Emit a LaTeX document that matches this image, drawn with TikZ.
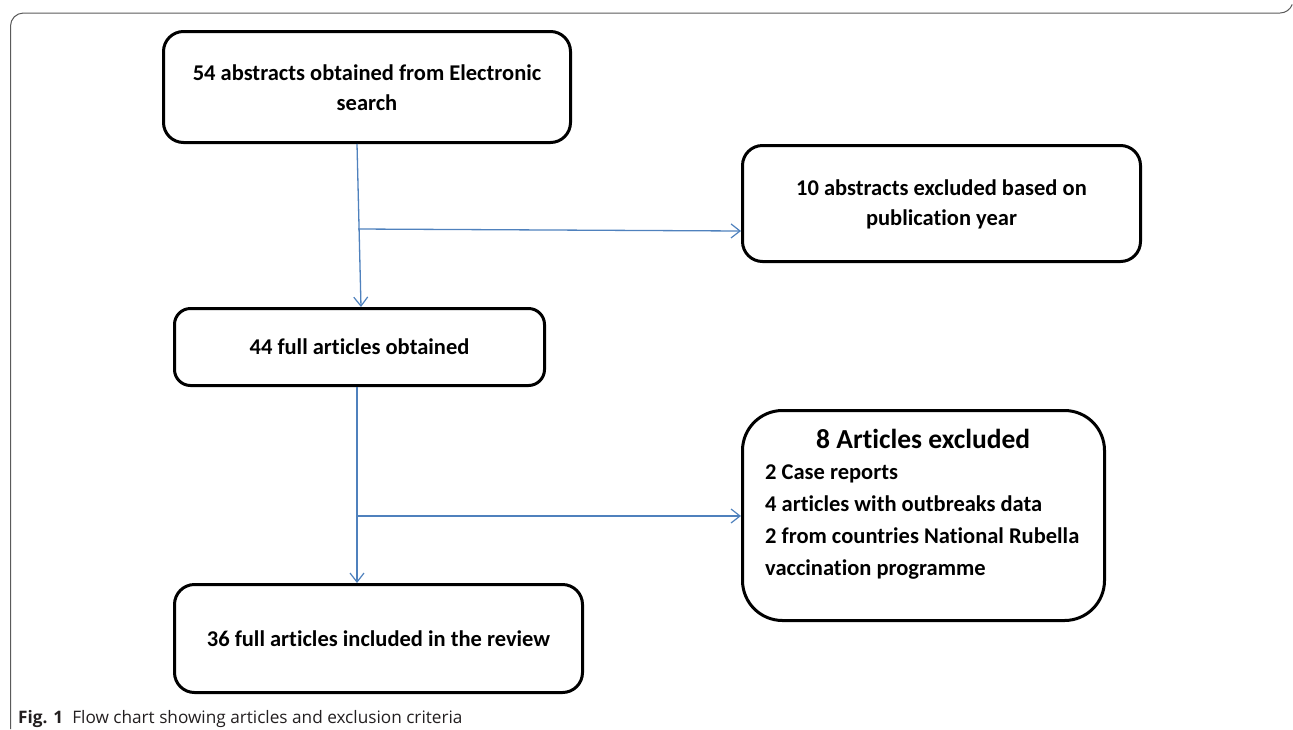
\documentclass[tikz,border=0pt]{standalone}
\usepackage{fontspec}
\setmainfont{Carlito}[Ligatures=NoCommon]
\newfontfamily\capfont{Open Sans}
\usetikzlibrary{arrows.meta}
\definecolor{arrblue}{RGB}{79,129,189}
\definecolor{framegray}{RGB}{90,90,90}
\definecolor{capgray}{RGB}{35,31,32}
\tikzset{
  box/.style={draw=black, line width=3pt, rounded corners=20pt, inner sep=0pt,
    font=\fontsize{22.5}{30}\selectfont\bfseries, align=center},
  arr/.style={draw=arrblue, line width=1.3pt, -{Straight Barb[length=9pt,width=14pt,line width=1.2pt]}},
}
\begin{document}
\begin{tikzpicture}[x=1pt,y=-1pt]
\useasboundingbox (0,0) rectangle (1293,729);
% outer frame
\draw[framegray, line width=1pt] (10.5,729) -- (10.5,26) arc[start angle=180,end angle=270,radius=13] -- (1280,13) arc[start angle=90,end angle=20,radius=13];
% boxes
\node[box, minimum width=407pt, minimum height=111pt] (b1) at (367,87) {\rule{0pt}{18pt}54 abstracts obtained from Electronic\\search};
\node[box, minimum width=398pt, minimum height=116pt] (b2) at (941.5,203.5) {\rule{0pt}{18pt}10 abstracts excluded based on\\publication year};
\node[box, minimum width=370pt, minimum height=77pt, rounded corners=16pt] (b3) at (359.5,347) {\raisebox{-2pt}{44 full articles obtained}};
\node[box, minimum width=362pt, minimum height=210pt, rounded corners=40pt] (b4) at (923.5,515.5) {};
\node[font=\fontsize{22.5}{32}\selectfont\bfseries, align=left, anchor=north west, inner sep=0pt] (b4t) at ([xshift=24pt,yshift=-20pt]b4.north west)
  {\makebox[316pt]{\fontsize{27.5}{30}\selectfont 8 Articles excluded}\\[-1pt]
   2 Case reports\\
   4 articles with outbreaks data\\
   2 from countries National Rubella\\
   vaccination programme};
\node[box, minimum width=408pt, minimum height=108pt] (b5) at (378.5,638.5) {\raisebox{-2pt}{36 full articles included in the review}};
% connectors
\coordinate (j1) at (358,229);
\coordinate (j2) at (357,516);
\draw[arr] ([xshift=-10pt]b1.south) -- (b3.north -| 361,0);
\draw[arr] (j1) -- (b2.west |- 0,231);
\draw[arr] (b3.south -| j2) -- (b5.north -| j2);
\draw[arr] (j2) -- (b4.west |- j2);
% caption
\node[anchor=base west, inner sep=0pt, text=capgray, font=\capfont\fontsize{17.2}{20}\selectfont] (cap) at (18,723)
  {\textbf{Fig. 1}\hspace{9pt}Flow chart showing articles and exclusion criteria};
\end{tikzpicture}
\end{document}
